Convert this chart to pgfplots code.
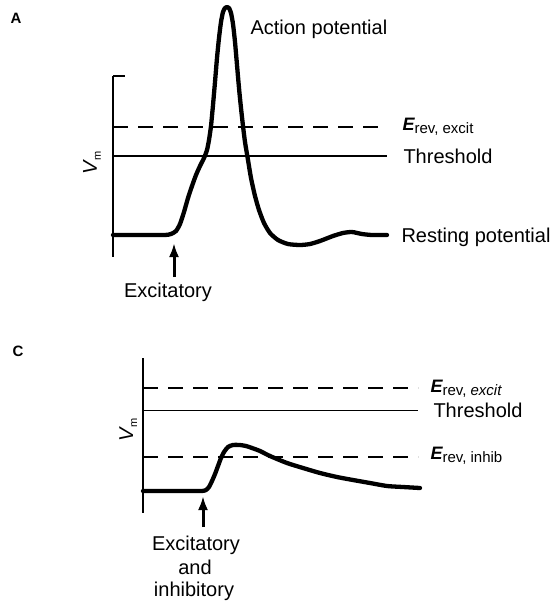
\documentclass[border=0pt]{standalone}
\usepackage{pgfplots}
\pgfplotsset{compat=1.18}
\usepackage{fontspec}
\setmainfont{Liberation Sans}
\usetikzlibrary{arrows.meta}

\newcommand{\fs}[1]{\fontsize{#1bp}{#1bp}\selectfont}
\newcommand{\Erev}[1]{{\fs{18}\bfseries\itshape E}\raisebox{-3bp}{\fs{15}#1}}
\newcommand{\Vm}{{\fs{20}\itshape V}\raisebox{-4bp}{\fs{11}m}}

\pgfplotstableread{
x y
113 235
150 235
165 235
171 234
176 231
180 224
184 212
188 198
192 186
196 175
200 166
204 158
207 150
209 140
211 126
213 105
215 82
217 58
219 38
221 22
223 12
225 8
227 7
229 8
231 13
233 24
235 42
237 65
239 88
241 108
243 126
245 142
248 160
251 178
255 196
259 210
264 223
270 233
278 240
288 244
300 245
310 244
320 241
333 236
343 233
352 232
362 234
372 235
387 235
}\curveA

\pgfplotstableread{
x y
143 491
190 491
202 491
206 490
209 487
212 481
215 474
218 466
221 458
224 452
228 447
233 445
240 445
246 446
252 448
260 451
270 456
287 463
303 468
320 473
337 477
353 480
370 483
387 486
403 487
420 488
}\curveC

\pgfplotsset{
  panel/.style={
    scale only axis, clip=false, y dir=reverse,
    axis x line=none, axis y line*=left,
    xtick=\empty, ytick=\empty,
    y axis line style={-},
  },
  dashedline/.style={black, line width=2.8bp, dash pattern=on 15bp off 10bp},
  curve/.style={black, line width=4.3bp, smooth, tension=0.4, line cap=round, line join=round},
  arrowup/.style={black, line width=3bp, -{Latex[length=14bp,width=10bp]}},
}

\begin{document}
\begin{tikzpicture}
\path[use as bounding box] (0,0) rectangle (557bp,-608bp);

% ---------------- Panel A ----------------
\begin{axis}[panel,
  at={(113bp,-257bp)}, anchor=south west,
  width=274bp, height=181bp,
  xmin=113, xmax=387, ymin=76, ymax=257,
  axis line style={line width=2.2bp},
]
\addplot[black, line width=1.5bp] coordinates {(113,76) (125,76)};
\addplot[dashedline] coordinates {(113,127) (387,127)};
\addplot[black, line width=2bp] coordinates {(113,156) (387,156)};
\addplot[curve] table[x=x,y=y] {\curveA};
\addplot[arrowup] coordinates {(174,277) (174,243)};

\node[font=\fs{15}\bfseries] at (axis cs:16,18) {A};
\node[anchor=base west, font=\fs{20}] at (axis cs:247,34) {Action potential};
\node[anchor=base west] at (axis cs:399,130) {\Erev{rev, excit}};
\node[anchor=base west, font=\fs{20}] at (axis cs:400,163) {Threshold};
\node[anchor=base west, font=\fs{20}] at (axis cs:398,242) {Resting potential};
\node[anchor=base, font=\fs{20}] at (axis cs:168,297) {Excitatory};
\node[anchor=base, rotate=90] at (axis cs:97,163) {\Vm};
\end{axis}

% ---------------- Panel C ----------------
\begin{axis}[panel,
  at={(143bp,-513bp)}, anchor=south west,
  width=277bp, height=155bp,
  xmin=143, xmax=420, ymin=358, ymax=513,
  axis line style={line width=2.5bp},
]
\addplot[dashedline] coordinates {(143,388) (418,388)};
\addplot[black, line width=0.9bp] coordinates {(143,410) (418,410)};
\addplot[dashedline] coordinates {(143,457) (418,457)};
\addplot[curve] table[x=x,y=y] {\curveC};
\addplot[arrowup] coordinates {(203,527) (203,496)};

\node[font=\fs{15}\bfseries] at (axis cs:18,351) {C};
\node[anchor=base west] at (axis cs:427,392) {\Erev{rev, \textit{excit}}};
\node[anchor=base west, font=\fs{20}] at (axis cs:430,417) {Threshold};
\node[anchor=base west] at (axis cs:427,459) {\Erev{rev, inhib}};
\node[anchor=base, rotate=90] at (axis cs:133,430) {\Vm};
\node[anchor=base, font=\fs{20}] at (axis cs:196,550) {Excitatory};
\node[anchor=base, font=\fs{20}] at (axis cs:195,574) {and};
\node[anchor=base, font=\fs{20}] at (axis cs:194,596) {inhibitory};
\end{axis}
\end{tikzpicture}
\end{document}
